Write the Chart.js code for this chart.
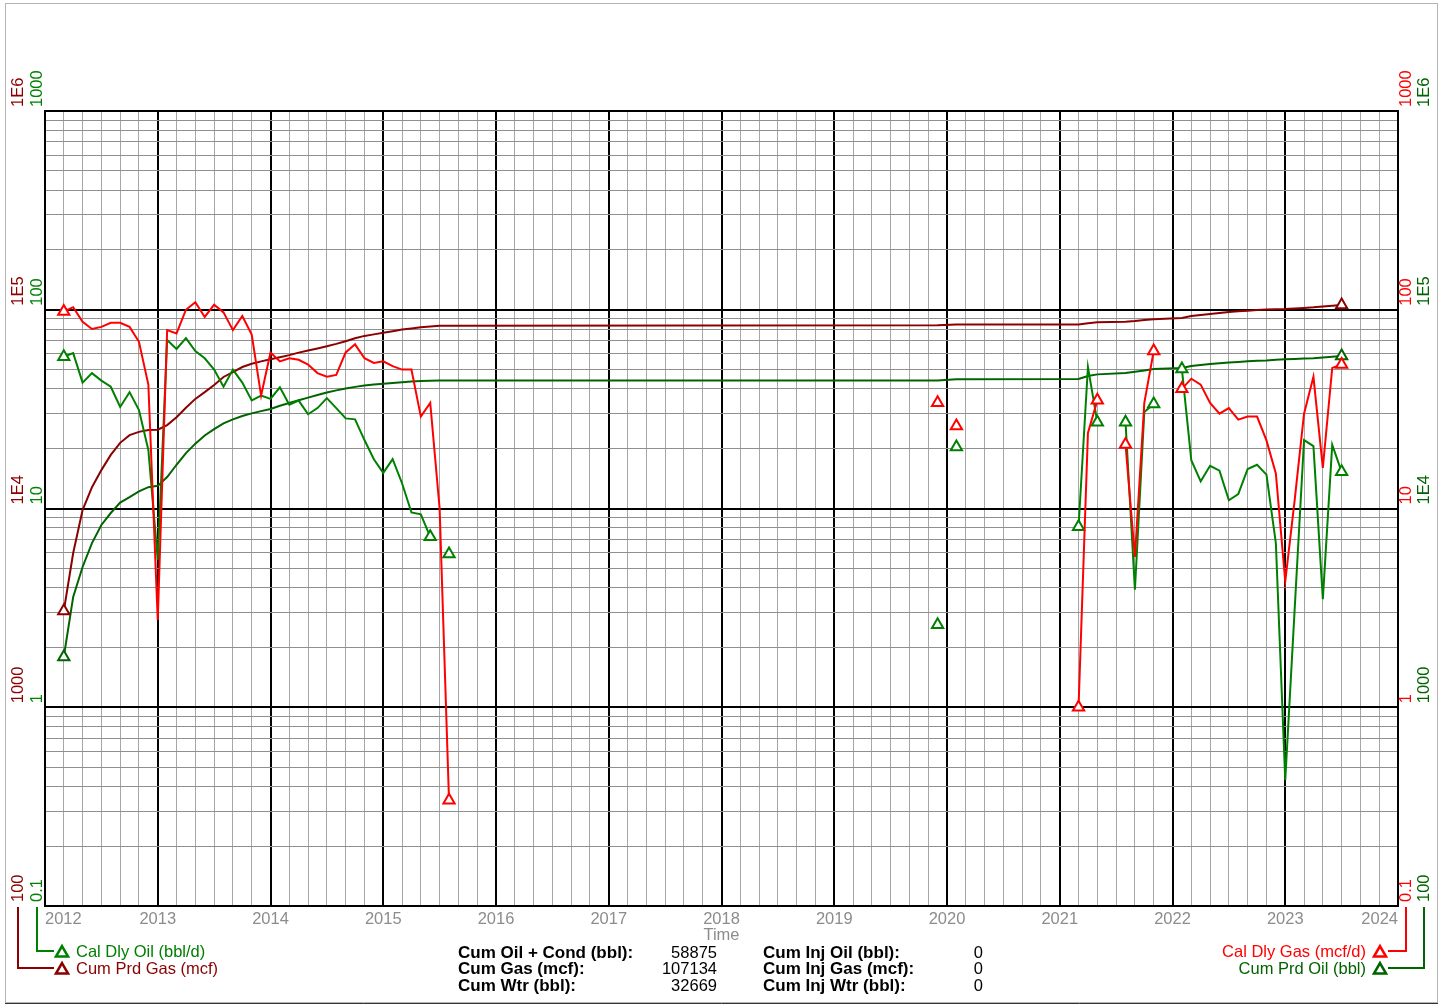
<!DOCTYPE html>
<html lang="en">
<head>
  <meta charset="UTF-8" />
  <title>Production Plot</title>
  <script src="https://cdn.jsdelivr.net/npm/chart.js"></script>
  <style>
    html, body { margin: 0; padding: 0; background: #fff; }
    canvas { display: block; }
  </style>
</head>
<body>
  <canvas id="prodChart" width="1445" height="1005"></canvas>

  <script>
    const FONT = "'Liberation Sans', Arial, sans-serif";
    const GAS_RATE = "#ff0000";
    const OIL_RATE = "#008000";
    const GAS_CUM = "#8b0000";
    const OIL_CUM = "#006400";
    const MAX_GAP = 0.1; // years; a longer jump between months breaks the rate lines

    // production months (no rows for shut-in months)
    const months = [
      "2012-03", "2012-04", "2012-05", "2012-06", "2012-07", "2012-08", "2012-09", "2012-10", "2012-11", "2012-12",
      "2013-01", "2013-02", "2013-03", "2013-04", "2013-05", "2013-06", "2013-07", "2013-08", "2013-09", "2013-10", "2013-11", "2013-12",
      "2014-01", "2014-02", "2014-03", "2014-04", "2014-05", "2014-06", "2014-07", "2014-08", "2014-09", "2014-10", "2014-11", "2014-12",
      "2015-01", "2015-02", "2015-03", "2015-04", "2015-05", "2015-06", "2015-07", "2015-08",
      "2019-12", "2020-02",
      "2021-03", "2021-04", "2021-05",
      "2021-08", "2021-09", "2021-10", "2021-11",
      "2022-02", "2022-03", "2022-04", "2022-05", "2022-06", "2022-07", "2022-08", "2022-09", "2022-10", "2022-11", "2022-12",
      "2023-01", "2023-02", "2023-03", "2023-04", "2023-05", "2023-06", "2023-07"
    ];

    // Cal Dly Gas (mcf/d)
    const gasRate = [
      98, 103, 87, 80, 82, 86, 86, 82, 69, 42,
      2.75, 79, 76, 100, 109, 92, 106, 97, 79, 93, 75, 37,
      61, 55, 57, 56, 53, 48, 46, 47, 61, 67, 57, 54,
      55, 52, 50, 50, 29, 34, 10, 0.34,
      34, 26,
      1.0, 24, 35,
      21, 5.7, 34, 62,
      40, 45, 42, 34, 30, 32, 28, 29, 29, 22, 15,
      4.3, 11, 30, 46, 16, 51, 53
    ];

    // Cal Dly Oil (bbl/d)
    const oilRate = [
      58, 60.5, 43, 48, 44, 41, 32.4, 38.5, 31.3, 19.7,
      5.5, 70.5, 63.5, 72, 62, 57, 50, 41, 50, 43, 35, 37,
      35.6, 40.7, 33.3, 34.9, 29.8, 32, 35.9, 32, 28.4, 28.1, 22.1, 17.7,
      15.1, 17.7, 13.4, 9.55, 9.35, 7.2, null, 5.9,
      2.6, 20.4,
      8.1, 51.5, 27.2,
      27.2, 3.9, 30.6, 33.6,
      50.3, 17.5, 13.7, 16.4, 15.5, 11, 11.8, 15.8, 16.6, 14.8, 6.7,
      0.43, 3.1, 22.1, 20.6, 3.5, 20.9, 15.3
    ];

    // Cum Prd Gas (mcf)
    const gasCum = [
      3050, 5970, 9820, 12800, 15600, 18600, 21400, 23400, 24300, 24800,
      24900, 26300, 28800, 32100, 35600, 38500, 41800, 45900, 48600, 51500, 53500, 55000,
      56300, 57700, 59130, 60870, 62370, 63900, 65480, 67330, 69470, 71850, 73870, 75170,
      76560, 78000, 79450, 80570, 81700, 82360, 83000, 83100,
      83600, 84300,
      84400, 85600, 86500,
      87100, 87700, 88700, 89600,
      90900, 93100, 94200, 95300, 96400, 97500, 98200, 98900, 99700, 100300, 100700,
      100900, 101400, 102100, 102800, 103800, 104700, 105700
    ];

    // Cum Prd Oil (bbl)
    const oilCum = [
      1790, 3590, 5080, 6700, 8260, 9490, 10700, 11400, 12200, 12800,
      13000, 14400, 16600, 19000, 21200, 23300, 25100, 26800, 28100, 29200, 30100, 30900,
      31700, 32910, 33950, 35070, 36140, 37250, 38300, 39290, 40170, 40920, 41540, 42020,
      42460, 42860, 43210, 43560, 43860, 43960, 44000, 44010,
      44100, 44700,
      44800, 46400, 47300,
      48100, 48800, 49500, 50300,
      50900, 52100, 52700, 53300, 53800, 54200, 54600, 55000, 55400, 55600, 56000,
      56300, 56500, 56800, 57000, 57500, 58000, 58500
    ];

    const yearMin = 2012;
    const yearMax = 2024;
    const rateTicks = [0.1, 1, 10, 100, 1000];
    const rateTickLabels = ["0.1", "1", "10", "100", "1000"];
    const cumTicks = [100, 1000, 1e4, 1e5, 1e6];
    const cumTickLabels = ["100", "1000", "1E4", "1E5", "1E6"];

    const summaryLeft = [
      ["Cum Oil + Cond (bbl):", "58875"],
      ["Cum Gas (mcf):", "107134"],
      ["Cum Wtr (bbl):", "32669"]
    ];
    const summaryRight = [
      ["Cum Inj Oil (bbl):", "0"],
      ["Cum Inj Gas (mcf):", "0"],
      ["Cum Inj Wtr (bbl):", "0"]
    ];

    const xs = months.map(m => {
      const [y, mo] = m.split("-").map(Number);
      return y + (mo - 1) / 12;
    });

    const isDecade = v => Math.abs(Math.log10(v) - Math.round(Math.log10(v))) < 1e-6;
    const isYear = v => Math.abs(v - Math.round(v)) < 1e-6;

    // triangle only where a line piece starts or ends
    function markerAt(vals, linked) {
      return ctx => {
        const i = ctx.dataIndex;
        if (vals[i] == null) return 0;
        const joined = j => j >= 0 && j < vals.length && vals[j] != null &&
          (linked || Math.abs(xs[j] - xs[i]) < MAX_GAP);
        return joined(i - 1) && joined(i + 1) ? 0 : 6.5;
      };
    }

    function series(label, vals, color, axis, linked) {
      return {
        label: label,
        data: vals.map((v, i) => ({ x: xs[i], y: v })),
        yAxisID: axis,
        borderColor: color,
        borderWidth: 2,
        tension: 0,
        spanGaps: linked ? true : MAX_GAP,
        pointStyle: "triangle",
        pointRadius: markerAt(vals, linked),
        pointHoverRadius: 0,
        pointBorderColor: color,
        pointBackgroundColor: "#fff",
        pointBorderWidth: 2
      };
    }

    function logGrid(decades) {
      const out = [];
      for (let d = 0; d < decades.length - 1; d++) {
        for (let m = 1; m <= 9; m++) out.push({ value: m * decades[d] });
      }
      out.push({ value: decades[decades.length - 1] });
      return out;
    }

    function triangle(ctx, x, y, r, color) {
      ctx.beginPath();
      for (let k = 0; k < 3; k++) {
        const ang = k * 2 * Math.PI / 3;
        const px = x + Math.sin(ang) * r, py = y - Math.cos(ang) * r;
        if (k) ctx.lineTo(px, py); else ctx.moveTo(px, py);
      }
      ctx.closePath();
      ctx.fillStyle = "#fff";
      ctx.fill();
      ctx.strokeStyle = color;
      ctx.lineWidth = 2.5;
      ctx.stroke();
    }

    const decorations = {
      id: "decorations",
      afterDraw(chart) {
        const { ctx, chartArea: a, scales } = chart;
        ctx.save();

        // page frame
        ctx.strokeStyle = "#b4b4b4";
        ctx.lineWidth = 1;
        ctx.strokeRect(5.5, 3.5, 1432, 999);
        ctx.strokeStyle = "#333";
        ctx.beginPath();
        ctx.moveTo(5, 1003.5);
        ctx.lineTo(1438, 1003.5);
        ctx.stroke();

        // plot frame
        ctx.strokeStyle = "#000";
        ctx.lineWidth = 2;
        ctx.strokeRect(a.left, a.top, a.right - a.left, a.bottom - a.top);

        // rotated axis numbers
        ctx.font = "16.5px " + FONT;
        ctx.textBaseline = "middle";
        ctx.textAlign = "left";
        const upText = (x, y, text, color) => {
          ctx.save();
          ctx.translate(x, y);
          ctx.rotate(-Math.PI / 2);
          ctx.fillStyle = color;
          ctx.fillText(text, 0, 0);
          ctx.restore();
        };
        const col = {
          leftCum: a.left - 27, leftRate: a.left - 8,
          rightRate: a.right + 8, rightCum: a.right + 26
        };
        rateTicks.forEach((v, i) => {
          const y = scales.yRate.getPixelForValue(v) - 4;
          upText(col.leftRate, y, rateTickLabels[i], OIL_RATE);
          upText(col.rightRate, y, rateTickLabels[i], GAS_RATE);
        });
        cumTicks.forEach((v, i) => {
          const y = scales.yCum.getPixelForValue(v) - 4;
          upText(col.leftCum, y, cumTickLabels[i], GAS_CUM);
          upText(col.rightCum, y, cumTickLabels[i], OIL_CUM);
        });

        // legends hooked to their axis columns
        const rows = [951, 968];
        const hook = (axisX, y, endX, color) => {
          ctx.strokeStyle = color;
          ctx.lineWidth = 2;
          ctx.beginPath();
          ctx.moveTo(axisX, a.bottom + 1);
          ctx.lineTo(axisX, y);
          ctx.lineTo(endX, y);
          ctx.stroke();
        };
        const leftItems = [
          { label: "Cal Dly Oil (bbl/d)", color: OIL_RATE, axisX: col.leftRate },
          { label: "Cum Prd Gas (mcf)", color: GAS_CUM, axisX: col.leftCum }
        ];
        const rightItems = [
          { label: "Cal Dly Gas (mcf/d)", color: GAS_RATE, axisX: col.rightRate },
          { label: "Cum Prd Oil (bbl)", color: OIL_CUM, axisX: col.rightCum }
        ];
        ctx.font = "16.5px " + FONT;
        leftItems.forEach((it, i) => {
          hook(it.axisX, rows[i], 54, it.color);
          triangle(ctx, 62, rows[i] + 2, 7, it.color);
          ctx.fillStyle = it.color;
          ctx.textAlign = "left";
          ctx.fillText(it.label, 76, rows[i] + 1);
        });
        rightItems.forEach((it, i) => {
          hook(it.axisX, rows[i], 1388, it.color);
          triangle(ctx, 1380, rows[i] + 2, 7, it.color);
          ctx.fillStyle = it.color;
          ctx.textAlign = "right";
          ctx.fillText(it.label, 1366, rows[i] + 1);
        });

        // cumulative summary
        const sumRows = [953, 969.5, 986];
        const block = (items, labelX, valueX) => {
          items.forEach((row, i) => {
            ctx.fillStyle = "#000";
            ctx.font = "bold 17px " + FONT;
            ctx.textAlign = "left";
            ctx.fillText(row[0], labelX, sumRows[i]);
            ctx.font = "16.5px " + FONT;
            ctx.textAlign = "right";
            ctx.fillText(row[1], valueX, sumRows[i]);
          });
        };
        block(summaryLeft, 458, 717);
        block(summaryRight, 763, 983);

        ctx.restore();
      }
    };

    new Chart(document.getElementById("prodChart"), {
      type: "line",
      data: {
        datasets: [
          series("Cal Dly Gas (mcf/d)", gasRate, GAS_RATE, "yRate", false),
          series("Cal Dly Oil (bbl/d)", oilRate, OIL_RATE, "yRate", false),
          series("Cum Prd Gas (mcf)", gasCum, GAS_CUM, "yCum", true),
          series("Cum Prd Oil (bbl)", oilCum, OIL_CUM, "yCum", true)
        ]
      },
      options: {
        responsive: false,
        animation: false,
        layout: { padding: { left: 0, right: 47, top: 111, bottom: 0 } },
        plugins: {
          legend: { display: false },
          tooltip: { enabled: false }
        },
        scales: {
          x: {
            type: "linear",
            min: yearMin,
            max: yearMax,
            afterBuildTicks(scale) {
              const ticks = [];
              for (let i = 0; i <= (yearMax - yearMin) * 6; i++) ticks.push({ value: yearMin + i / 6 });
              scale.ticks = ticks;
            },
            afterFit(scale) { scale.height = 99; },
            grid: {
              drawTicks: false,
              color: c => isYear(c.tick.value) ? "#000" : "#a6a6a6",
              lineWidth: c => isYear(c.tick.value) ? 2 : 1
            },
            border: { color: "#000", width: 2 },
            ticks: {
              autoSkip: false,
              maxRotation: 0,
              align: "inner",
              padding: 4,
              color: "#8c8c8c",
              font: { family: FONT, size: 16.5 },
              callback: v => isYear(v) ? String(Math.round(v)) : ""
            },
            title: {
              display: true,
              text: "Time",
              color: "#8c8c8c",
              font: { family: FONT, size: 16.5 },
              padding: { top: 0, bottom: 60 }
            }
          },
          yRate: {
            type: "logarithmic",
            position: "left",
            min: rateTicks[0],
            max: rateTicks[rateTicks.length - 1],
            afterBuildTicks(scale) { scale.ticks = logGrid(rateTicks); },
            afterFit(scale) { scale.width = 45; },
            ticks: { display: false },
            grid: {
              drawTicks: false,
              color: c => isDecade(c.tick.value) ? "#000" : "#8f8f8f",
              lineWidth: c => isDecade(c.tick.value) ? 2 : 1
            },
            border: { color: "#000", width: 2 }
          },
          yCum: {
            type: "logarithmic",
            position: "right",
            display: false,
            min: cumTicks[0],
            max: cumTicks[cumTicks.length - 1]
          }
        }
      },
      plugins: [decorations]
    });
  </script>
</body>
</html>
